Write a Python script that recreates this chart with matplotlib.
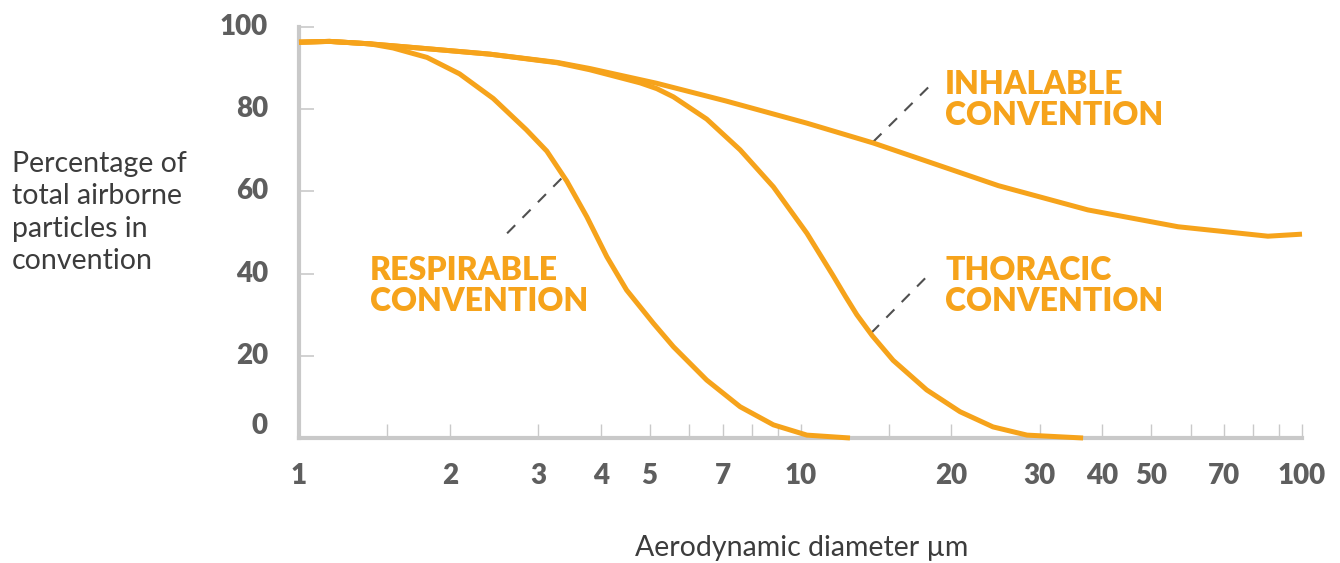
import numpy as np
import matplotlib
matplotlib.use("Agg")
import matplotlib.pyplot as plt

# ---- data (aerodynamic diameter in um, percentage) ----
inhalable_d = [1.0, 1.15, 1.385, 1.77, 2.4, 3.27, 3.8, 5.17, 7.1, 10.3, 13.95, 17.9, 24.8,
               37.4, 56.6, 85.5, 100.0]
inhalable_pct = [96.3, 96.5, 95.9, 94.8, 93.4, 91.4, 89.9, 86.3, 82.0, 76.6, 71.8, 67.3, 61.4,
                 55.5, 51.4, 49.1, 49.6]

thoracic_d = [1.0, 1.15, 1.385, 1.77, 2.4, 3.27, 3.8, 4.79, 5.17, 5.58, 6.5, 7.58, 8.83, 10.3,
              11.6, 12.3, 12.95, 13.9, 15.3, 17.85, 20.8, 24.2, 28.3, 36.6]
thoracic_pct = [96.3, 96.5, 95.9, 94.8, 93.4, 91.3, 89.6, 86.4, 85.0, 83.0, 77.6, 70.1, 61.1, 49.8,
                39.6, 34.4, 30.0, 24.9, 18.9, 11.7, 6.4, 2.7, 0.7, 0.0]

respirable_d = [1.0, 1.15, 1.385, 1.54, 1.8, 2.09, 2.44, 2.84, 3.12, 3.42, 3.75, 4.11, 4.5,
                5.09, 5.58, 6.5, 7.58, 8.83, 10.3, 12.55]
respirable_pct = [96.3, 96.5, 95.9, 94.9, 92.6, 88.6, 82.6, 75.0, 69.8, 62.5, 53.8, 44.1, 36.0,
                  27.9, 22.2, 14.1, 7.6, 3.2, 0.7, 0.0]

x_ticks = [1, 1.5, 2, 3, 4, 5, 6, 7, 8, 9, 10, 15, 20, 30, 40, 50, 60, 70, 80, 90, 100]
x_labelled = [1, 2, 3, 4, 5, 7, 10, 20, 30, 40, 50, 70, 100]
y_ticks = [0, 20, 40, 60, 80, 100]

# leader lines: (start d, start pct, end d, end pct)
leaders = {
    "respirable": (2.6, 49.8, 3.39, 64.0),
    "inhalable": (13.97, 72.1, 18.46, 86.7),
    "thoracic": (13.82, 25.5, 18.07, 39.9),
}

ORANGE = "#F6A31B"
GREY_AX = "#C9C9C9"
GREY_TXT = "#5E5E5E"

plt.rcParams['font.family'] = ['Lato', 'DejaVu Sans']

fig = plt.figure(figsize=(13.4, 5.63), dpi=100)
ax = fig.add_axes([299 / 1340, 1 - 438 / 563, (1302 - 299) / 1340, (438 - 27) / 563])

for d, p in [(inhalable_d, inhalable_pct), (thoracic_d, thoracic_pct), (respirable_d, respirable_pct)]:
    ax.plot(d, p, color=ORANGE, lw=3.6, solid_capstyle='butt', solid_joinstyle='round',
            clip_on=False, zorder=5)

for x0, y0, x1, y1 in leaders.values():
    ax.plot([x0, x1], [y0, y1], color="#505050", lw=1.5, dashes=(5.5, 5), zorder=4)

ax.set_xscale('log')
ax.set_xlim(1, 100)
ax.set_ylim(0, 100)

for s in ['top', 'right']:
    ax.spines[s].set_visible(False)
for s in ['left', 'bottom']:
    ax.spines[s].set_color(GREY_AX)
    ax.spines[s].set_linewidth(3)

ax.set_xticks(x_ticks)
ax.set_xticklabels([str(t) if t in x_labelled else "" for t in x_ticks])
ax.xaxis.set_minor_locator(matplotlib.ticker.NullLocator())
ax.tick_params(axis='x', direction='in', length=10, width=1, color=GREY_AX,
               pad=18, labelsize=20, labelcolor=GREY_TXT)
for lab in ax.get_xticklabels():
    lab.set_fontweight('heavy')

ax.set_yticks(y_ticks)
ax.set_yticklabels([])
ax.tick_params(axis='y', direction='in', length=11, width=1.2, color=GREY_AX)
for v in y_ticks:
    yy = v + 3 if v == 0 else v
    ax.text(-0.031, yy, str(v), transform=ax.get_yaxis_transform(), ha='right', va='center',
            fontsize=20, fontweight='heavy', color=GREY_TXT)

# curve names
lab_kw = dict(color=ORANGE, fontsize=23, fontweight='heavy', va='top', ha='left', linespacing=1.08)
fig.text(945 / 1340, 1 - 70 / 563, "INHALABLE\nCONVENTION", **lab_kw)
fig.text(370 / 1340, 1 - 256 / 563, "RESPIRABLE\nCONVENTION", **lab_kw)
fig.text(945 / 1340, 1 - 256 / 563, "THORACIC\nCONVENTION", **lab_kw)

fig.text(12 / 1340, 1 - 151 / 563, "Percentage of\ntotal airborne\nparticles in\nconvention",
         ha='left', va='top', fontsize=20.5, color="#3C3C3C", linespacing=1.3)
fig.text(802 / 1340, 1 - 548 / 563, "Aerodynamic diameter µm", ha='center', va='center',
         fontsize=20.5, color="#3C3C3C")

fig.savefig("out.png", dpi=100, facecolor='white')
